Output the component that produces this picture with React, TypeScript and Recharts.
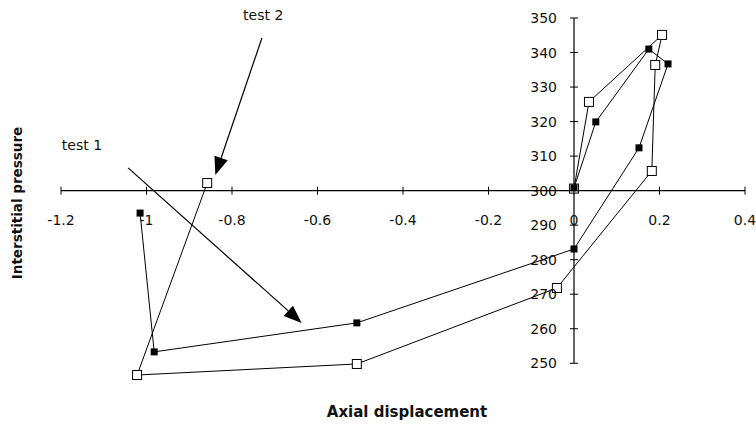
import React from 'react';
import { ScatterChart, Scatter, XAxis, YAxis, ReferenceLine, ReferenceDot } from 'recharts';

const xTicks = [-1.2, -1, -0.8, -0.6, -0.4, -0.2, 0, 0.2, 0.4];
const yTicks = [250, 260, 270, 280, 290, 300, 310, 320, 330, 340, 350];

// test 1: filled squares
const test1 = [
  { x: -1.015, y: 293.5 },
  { x: -0.982, y: 253.3 },
  { x: -0.508, y: 261.7 },
  { x: 0, y: 283.1 },
  { x: 0.152, y: 312.4 },
  { x: 0.22, y: 336.7 },
  { x: 0.175, y: 341 },
  { x: 0.051, y: 319.9 },
  { x: 0, y: 300.8 },
];

// test 2: open squares
const test2 = [
  { x: -0.858, y: 302.2 },
  { x: -1.022, y: 246.6 },
  { x: -0.508, y: 249.8 },
  { x: -0.04, y: 271.8 },
  { x: 0.182, y: 305.7 },
  { x: 0.19, y: 336.4 },
  { x: 0.206, y: 345.1 },
  { x: 0.035, y: 325.7 },
  { x: 0, y: 300.6 },
];

// annotation arrows (start -> tip) and their labels, in data units
const arrow1 = [{ x: -1.043, y: 306.6 }, { x: -0.637, y: 261.7 }];
const arrow2 = [{ x: -0.73, y: 344.2 }, { x: -0.839, y: 304.5 }];
const notes = [
  { x: -1.198, y: 311.8, text: 'test 1' },
  { x: -0.774, y: 349.4, text: 'test 2' },
];

const W = 756;
const H = 425;
const M = { top: 18, right: 11, bottom: 40, left: 60 };
const AXIS_SIZE = 1;
const X_DOMAIN = [-1.2, 0.4];
const Y_DOMAIN = [244, 350];
const FONT = 'DejaVu Sans';

// where the axes cross (x = 0, y = 300) in pixels
const plotLeft = M.left + AXIS_SIZE;
const plotW = W - plotLeft - M.right;
const plotH = H - M.top - M.bottom - AXIS_SIZE;
const X0 = plotLeft + ((0 - X_DOMAIN[0]) / (X_DOMAIN[1] - X_DOMAIN[0])) * plotW;
const Y0 = M.top + ((Y_DOMAIN[1] - 300) / (Y_DOMAIN[1] - Y_DOMAIN[0])) * plotH;

const XTick = (props: any) => {
  const { x, payload } = props;
  return (
    <g>
      <line x1={x} x2={x} y1={Y0 - 4} y2={Y0 + 4} stroke="#000" strokeWidth={1} />
      <text x={x} y={Y0 + 34} textAnchor="middle" fontSize={14} fontFamily={FONT} fill="#111">
        {payload.value}
      </text>
    </g>
  );
};

const YTick = (props: any) => {
  const { y, payload } = props;
  return (
    <g>
      <line x1={X0 - 4} x2={X0 + 4} y1={y} y2={y} stroke="#000" strokeWidth={1} />
      <text x={X0 - 17} y={y + 5} textAnchor="end" fontSize={14} fontFamily={FONT} fill="#111">
        {payload.value}
      </text>
    </g>
  );
};

const FilledSquare = (props: any) => {
  const { cx, cy } = props;
  return <rect x={cx - 3.5} y={cy - 3.5} width={7} height={7} fill="#000" />;
};

const OpenSquare = (props: any) => {
  const { cx, cy } = props;
  return <rect x={cx - 4.5} y={cy - 4.5} width={9} height={9} fill="#fff" stroke="#000" strokeWidth={1} />;
};

const Arrow = (props: any) => {
  const { x1, y1, x2, y2 } = props;
  const a = Math.atan2(y2 - y1, x2 - x1);
  const len = 18;
  const half = 7;
  const bx = x2 - len * Math.cos(a);
  const by = y2 - len * Math.sin(a);
  const px = -Math.sin(a) * half;
  const py = Math.cos(a) * half;
  return (
    <g>
      <line x1={x1} y1={y1} x2={bx} y2={by} stroke="#000" strokeWidth={1.2} />
      <polygon points={`${x2},${y2} ${bx + px},${by + py} ${bx - px},${by - py}`} fill="#000" />
    </g>
  );
};

const Note = (props: any) => {
  const { cx, cy, text } = props;
  return (
    <text x={cx} y={cy} fontSize={14} fontFamily={FONT} fill="#111">
      {text}
    </text>
  );
};

export default function App() {
  return (
    <div style={{ position: 'absolute', left: 0, top: 0, width: W, height: H, background: '#fff' }}>
      <ScatterChart width={W} height={H} margin={M}>
        <XAxis
          type="number"
          dataKey="x"
          domain={X_DOMAIN}
          ticks={xTicks}
          interval={0}
          axisLine={false}
          tickLine={false}
          tick={<XTick />}
          height={AXIS_SIZE}
        />
        <YAxis
          type="number"
          dataKey="y"
          domain={Y_DOMAIN}
          ticks={yTicks}
          interval={0}
          allowDataOverflow
          axisLine={false}
          tickLine={false}
          tick={<YTick />}
          width={AXIS_SIZE}
        />
        <ReferenceLine y={300} stroke="#000" strokeWidth={1.2} />
        <ReferenceLine
          segment={[{ x: 0, y: 250 }, { x: 0, y: 350 }]}
          stroke="#000"
          strokeWidth={1.2}
        />
        <ReferenceLine segment={arrow1} shape={Arrow} ifOverflow="visible" />
        <ReferenceLine segment={arrow2} shape={Arrow} ifOverflow="visible" />
        {notes.map((n) => (
          <ReferenceDot
            key={n.text}
            x={n.x}
            y={n.y}
            ifOverflow="visible"
            shape={(p: any) => <Note {...p} text={n.text} />}
          />
        ))}
        <Scatter
          name="test 2"
          data={test2}
          line={{ stroke: '#000', strokeWidth: 1 }}
          lineType="joint"
          shape={OpenSquare}
          isAnimationActive={false}
        />
        <Scatter
          name="test 1"
          data={test1}
          line={{ stroke: '#000', strokeWidth: 1 }}
          lineType="joint"
          shape={FilledSquare}
          isAnimationActive={false}
        />
      </ScatterChart>
      <svg
        width={W}
        height={H}
        style={{ position: 'absolute', left: 0, top: 0, pointerEvents: 'none' }}
      >
        <text x={407} y={417} textAnchor="middle" fontSize={15} fontWeight="bold" fontFamily={FONT} fill="#111">
          Axial displacement
        </text>
        <text
          x={0}
          y={0}
          transform="translate(22 203) rotate(-90)"
          textAnchor="middle"
          fontSize={13.5}
          fontWeight="bold"
          fontFamily={FONT}
          fill="#111"
        >
          Interstitial pressure
        </text>
      </svg>
    </div>
  );
}
